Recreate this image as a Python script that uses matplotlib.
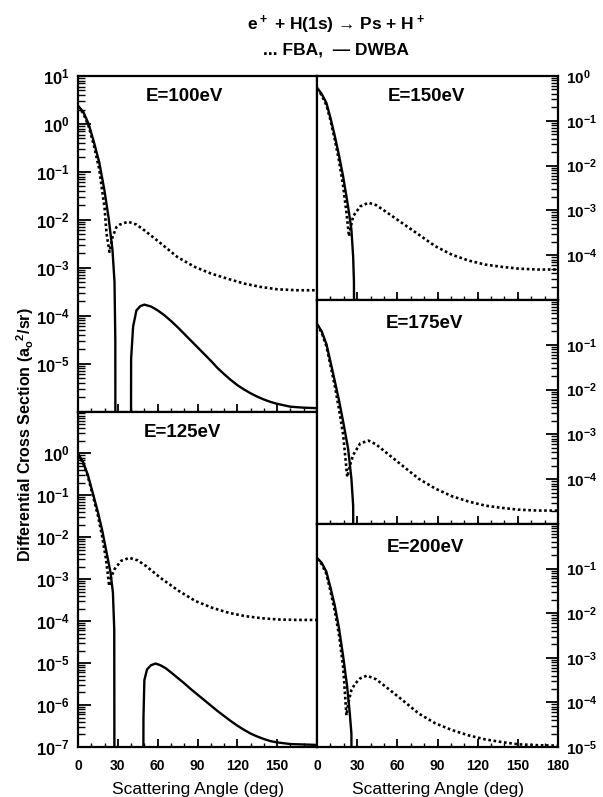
import numpy as np
import matplotlib.pyplot as plt
from matplotlib.ticker import LogLocator, NullFormatter, MultipleLocator

plt.rcParams['font.family'] = ['Liberation Sans', 'DejaVu Sans']
plt.rcParams['font.weight'] = 'bold'
plt.rcParams['mathtext.default'] = 'regular'

# digitised curves: scattering angle (deg) and log10 of the cross section
# -12 marks the zero of the DWBA amplitude (falls off the bottom of the axis)
ang_dwba_100 = [0, 4, 8, 12, 16, 20, 23, 26, 27.5, 28.1, 28.3,
                39.6, 40.0, 41.5, 44, 47, 50, 55, 60, 65, 70, 75, 80, 85, 90, 95, 100,
                105, 110, 115, 120, 125, 130, 135, 140, 145, 150, 155, 160, 170, 180]
log_dwba_100 = [0.38, 0.25, 0.0, -0.38, -0.8, -1.4, -1.95, -2.64, -3.3, -4.5, -12,
                -12, -4.9, -4.23, -3.89, -3.8, -3.77, -3.81, -3.89, -3.99, -4.11, -4.24, -4.38, -4.52, -4.66, -4.8, -4.94,
                -5.09, -5.22, -5.34, -5.45, -5.54, -5.62, -5.69, -5.75, -5.8, -5.84, -5.87, -5.9, -5.92, -5.93]
ang_fba_100 = [0, 4, 8, 12, 16, 20, 21.5, 23.7, 26, 29, 31.5, 37.7, 44, 50, 62.7, 75, 87.7, 100, 112.7, 125, 137.5, 150, 165, 180]
log_fba_100 = [0.36, 0.22, -0.05, -0.45, -0.95, -1.75, -2.29, -2.67, -2.36, -2.15, -2.1, -2.04, -2.1, -2.22, -2.5, -2.78, -2.98, -3.12, -3.23, -3.33, -3.4, -3.45, -3.47, -3.47]

ang_dwba_125 = [0, 4, 7.5, 11, 15, 18, 21, 24.5, 26.3, 27.3, 27.6,
                48.9, 49.3, 50, 52, 55, 58.5, 62, 66, 70, 75, 80, 85, 90, 95, 100, 105, 110,
                115, 120, 125, 130, 135, 140, 145, 150, 160, 170, 180]
log_dwba_125 = [0.0, -0.22, -0.52, -0.93, -1.4, -1.8, -2.28, -2.84, -3.32, -4.2, -12,
                -12, -6.3, -5.4, -5.15, -5.05, -5.01, -5.05, -5.12, -5.22, -5.35, -5.48, -5.62, -5.75, -5.88, -6.01, -6.14, -6.26,
                -6.38, -6.49, -6.59, -6.68, -6.75, -6.81, -6.86, -6.89, -6.93, -6.94, -6.95]
ang_fba_125 = [0, 4, 7.5, 11, 15, 18, 21, 23.5, 25, 27.5, 32.5, 38.7, 45, 51, 63.5, 76, 88.5, 101, 113.5, 126, 138.5, 151, 165, 180]
log_fba_125 = [-0.02, -0.24, -0.56, -0.98, -1.48, -1.95, -2.5, -3.16, -2.95, -2.76, -2.56, -2.49, -2.55, -2.68, -3.0, -3.28, -3.52, -3.68, -3.8, -3.88, -3.93, -3.96, -3.97, -3.97]

ang_dwba_150 = [0, 3.5, 7, 10, 13.3, 16.5, 19.5, 23.2, 25.7, 27, 27.6, 28.1]
log_dwba_150 = [-0.26, -0.4, -0.6, -0.93, -1.34, -1.78, -2.24, -2.91, -3.43, -4.03, -4.6, -12]
ang_fba_150 = [0, 3.5, 7, 10, 13.3, 16.5, 19.5, 22, 23.9, 25, 27, 32.3, 38.5, 44, 51, 63.5, 76, 88.4, 100.8, 113.3, 125.7, 138, 150.5, 165, 180]
log_fba_150 = [-0.28, -0.43, -0.65, -0.98, -1.42, -1.9, -2.45, -3.05, -3.58, -3.4, -3.13, -2.91, -2.83, -2.88, -3.02, -3.28, -3.54, -3.8, -3.99, -4.12, -4.21, -4.26, -4.3, -4.32, -4.32]

ang_dwba_175 = [0, 3.5, 7, 10, 13.3, 16.5, 19.5, 23.2, 25.7, 27, 27.8]
log_dwba_175 = [-0.53, -0.7, -0.98, -1.37, -1.81, -2.25, -2.71, -3.31, -3.99, -4.59, -12]
ang_fba_175 = [0, 3.5, 7, 10, 13.3, 16.5, 19.5, 22.6, 24.5, 27, 32.3, 38.5, 44, 51, 63.5, 76, 88.4, 100.8, 113.3, 125.7, 138, 150.5, 165, 180]
log_fba_175 = [-0.55, -0.73, -1.03, -1.45, -1.92, -2.45, -3.0, -3.95, -3.7, -3.46, -3.2, -3.14, -3.22, -3.39, -3.69, -3.99, -4.21, -4.38, -4.5, -4.59, -4.64, -4.68, -4.7, -4.7]

ang_dwba_200 = [0, 3.5, 7, 10, 13.3, 16.5, 19.5, 22.5, 24.5, 25.7, 26.2]
log_dwba_200 = [-0.76, -0.87, -1.07, -1.42, -1.83, -2.35, -2.96, -3.64, -4.25, -4.7, -12]
ang_fba_200 = [0, 3.5, 7, 10, 13.3, 16.5, 19.5, 22, 23.5, 25.7, 28.5, 32.3, 37.3, 44, 51, 63.5, 76, 88.4, 100.8, 113.3, 125.7, 138, 150.5, 165, 180]
log_fba_200 = [-0.78, -0.9, -1.12, -1.5, -1.95, -2.5, -3.2, -4.29, -4.0, -3.72, -3.58, -3.46, -3.4, -3.48, -3.64, -3.94, -4.25, -4.47, -4.62, -4.74, -4.83, -4.89, -4.94, -4.96, -4.97]

# decades shown on each panel and the ones that carry a label
range_100, labels_100 = (-6, 1), [1, 0, -1, -2, -3, -4, -5]
range_125, labels_125 = (-7, 1), [0, -1, -2, -3, -4, -5, -6, -7]
range_150, labels_150 = (-5, 0), [0, -1, -2, -3, -4]
range_175, labels_175 = (-5, 0), [-1, -2, -3, -4]
range_200, labels_200 = (-5, 0), [-1, -2, -3, -4, -5]

xticks_left = [0, 30, 60, 90, 120, 150]
xticks_right = [0, 30, 60, 90, 120, 150, 180]

W, H = 603, 797
fig = plt.figure(figsize=(W / 100, H / 100), dpi=100)


def px_axes(x0, y0, x1, y1):
    return fig.add_axes([x0 / W, 1 - y1 / H, (x1 - x0) / W, (y1 - y0) / H])


def panel(ax, ad, ld, af, lf, yr, lab, title, side, xlab):
    ax.plot(af, 10.0 ** np.array(lf), color='black', lw=1.9,
            linestyle=(0, (1, 1)), dash_capstyle='butt')
    ax.plot(ad, 10.0 ** np.array(ld), color='black', lw=1.7)
    ax.set_yscale('log')
    ax.set_xlim(0, 180)
    ax.set_ylim(10.0 ** yr[0], 10.0 ** yr[1])
    decades = list(range(yr[0], yr[1] + 1))
    ax.set_yticks([10.0 ** k for k in decades])
    ax.set_yticklabels(['$10^{%d}$' % k if k in lab else '' for k in decades])
    ax.yaxis.set_minor_locator(LogLocator(base=10, subs=np.arange(2, 10), numticks=30))
    ax.yaxis.set_minor_formatter(NullFormatter())
    if side == 'left':
        ax.tick_params(axis='y', which='both', direction='in', left=True, right=False,
                       labelleft=True, labelright=False, labelsize=12, pad=6)
    else:
        ax.tick_params(axis='y', which='both', direction='in', left=False, right=True,
                       labelleft=False, labelright=True, labelsize=11, pad=6)
    ax.tick_params(axis='y', which='major', length=9, width=1.3)
    ax.tick_params(axis='y', which='minor', length=5, width=1.0)
    ax.xaxis.set_minor_locator(MultipleLocator(10))
    ax.set_xticks([0, 30, 60, 90, 120, 150, 180])
    if xlab is None:
        ax.tick_params(axis='x', labelbottom=False)
    else:
        ax.set_xticklabels([str(v) if v in xlab else '' for v in range(0, 181, 30)])
        ax.set_xlabel('Scattering Angle (deg)', fontsize=12.5, labelpad=6)
    ax.tick_params(axis='x', which='both', direction='in', top=False, labelsize=10, pad=9)
    ax.tick_params(axis='x', which='major', length=6, width=1.3)
    ax.tick_params(axis='x', which='minor', length=3, width=1.0)
    for s in ax.spines.values():
        s.set_linewidth(1.6)
    ax.text(title[1], title[2], title[0], transform=ax.transAxes,
            ha='center', va='center', fontsize=13.5)


ax100 = px_axes(78, 76, 317, 411.5)
ax125 = px_axes(78, 411.5, 317, 747)
ax150 = px_axes(317, 76, 558, 300)
ax175 = px_axes(317, 300, 558, 524)
ax200 = px_axes(317, 524, 558, 747)

panel(ax100, ang_dwba_100, log_dwba_100, ang_fba_100, log_fba_100, range_100, labels_100,
      ('E=100eV', 0.445, 0.94), 'left', None)
panel(ax125, ang_dwba_125, log_dwba_125, ang_fba_125, log_fba_125, range_125, labels_125,
      ('E=125eV', 0.435, 0.936), 'left', xticks_left)
panel(ax150, ang_dwba_150, log_dwba_150, ang_fba_150, log_fba_150, range_150, labels_150,
      ('E=150eV', 0.454, 0.907), 'right', None)
panel(ax175, ang_dwba_175, log_dwba_175, ang_fba_175, log_fba_175, range_175, labels_175,
      ('E=175eV', 0.444, 0.894), 'right', None)
panel(ax200, ang_dwba_200, log_dwba_200, ang_fba_200, log_fba_200, range_200, labels_200,
      ('E=200eV', 0.45, 0.893), 'right', xticks_right)

fig.text(336 / W, 1 - 25 / H, 'e$^+$ + H(1s) → Ps + H$^+$', ha='center', va='center', fontsize=12.5)
fig.text(336 / W, 1 - 50 / H, '... FBA,  — DWBA', ha='center', va='center', fontsize=12.5)
fig.text(25 / W, 1 - 435 / H, 'Differential Cross Section (a$_o$$^2$/sr)',
         rotation=90, ha='center', va='center', fontsize=11.5)

fig.savefig('out.png', dpi=100)
